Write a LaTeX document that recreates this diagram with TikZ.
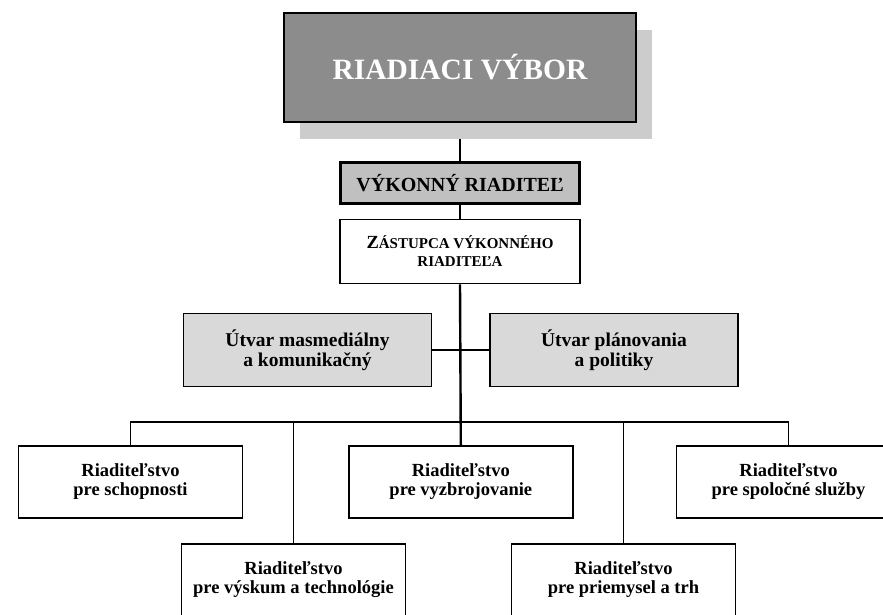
\documentclass[tikz,border=0pt]{standalone}
\usepackage{fontspec}
\setmainfont{Liberation Serif}
\usetikzlibrary{positioning, shadows, backgrounds}
\definecolor{boardgray}{RGB}{140, 140, 140}
\definecolor{shadegray}{RGB}{204, 204, 204}
\definecolor{headgray}{RGB}{192, 192, 192}
\definecolor{unitgray}{RGB}{217, 217, 217}
\newcommand{\smc}[1]{{\fontsize{15}{18}\selectfont #1}}

\begin{document}
\begin{tikzpicture}[
    x=1pt, y=-1pt,
    every node/.style={align=center, inner sep=0pt},
    board/.style={rectangle, draw=black, line width=2.5pt, fill=boardgray, minimum width=352pt, minimum height=109pt, text=white, font=\fontsize{29.5}{32}\selectfont\bfseries, drop shadow={shadow xshift=16pt, shadow yshift=-17pt, fill=shadegray, opacity=1}},
    head/.style={rectangle, draw=black, line width=2.5pt, fill=headgray, minimum width=239pt, minimum height=41pt, font=\fontsize{20}{22}\selectfont\bfseries},
    deputy/.style={rectangle, draw=black, line width=1.5pt, fill=white, minimum width=240pt, minimum height=64pt, font=\fontsize{18.5}{18}\selectfont\bfseries},
    unit/.style={rectangle, draw=black, line width=1.5pt, fill=unitgray, minimum width=248pt, minimum height=73pt, font=\fontsize{19.5}{19.5}\selectfont\bfseries},
    dept/.style={rectangle, draw=black, line width=1.6pt, fill=white, minimum width=224pt, minimum height=72pt, font=\fontsize{18.5}{19}\selectfont\bfseries},
    link/.style={draw=black, line width=1.7pt},
    spine/.style={draw=black, line width=2.4pt}
]
\useasboundingbox (0,0) rectangle (883,614);

% Top
\node[board] (board) at (460,67.5) {RIADIACI VÝBOR};
\node[head, below=38pt of board] (head) {VÝKONNÝ RIADITEĽ};
\node[deputy, below=14pt of head] (deputy) {Z\smc{ÁSTUPCA VÝKONNÉHO}\\\smc{RIADITEĽA}};

% Staff units
\node[unit] (media) at (307.5,350) {Útvar masmediálny\\a komunikačný};
\node[unit] (policy) at (614,350) {Útvar plánovania\\a politiky};

% Directorates
\node[dept] (capab) at (130.5,481.7) {Riaditeľstvo\\pre schopnosti};
\node[dept] (armam) at (460.8,481.7) {Riaditeľstvo\\pre vyzbrojovanie};
\node[dept] (shared) at (788.5,481.7) {Riaditeľstvo\\pre spoločné služby};
\node[dept] (research) at (293.5,580) {Riaditeľstvo\\pre výskum a technológie};
\node[dept] (industry) at (623.5,580) {Riaditeľstvo\\pre priemysel a trh};

\coordinate (bus) at (460.8,421.7);

% Lines
\begin{pgfonlayer}{background}
\draw[spine] (board.south) -- (head.north);
\draw[spine] (head) -- (deputy);
\draw[spine] (deputy.south) -- (armam.north);
\draw[link] (media.east) -- (policy.west);
\draw[link] (capab.north) |- (bus) -| (shared.north);
\draw[link] (research.north) -- (research.north |- bus);
\draw[link] (industry.north) -- (industry.north |- bus);
\end{pgfonlayer}

\end{tikzpicture}
\end{document}
